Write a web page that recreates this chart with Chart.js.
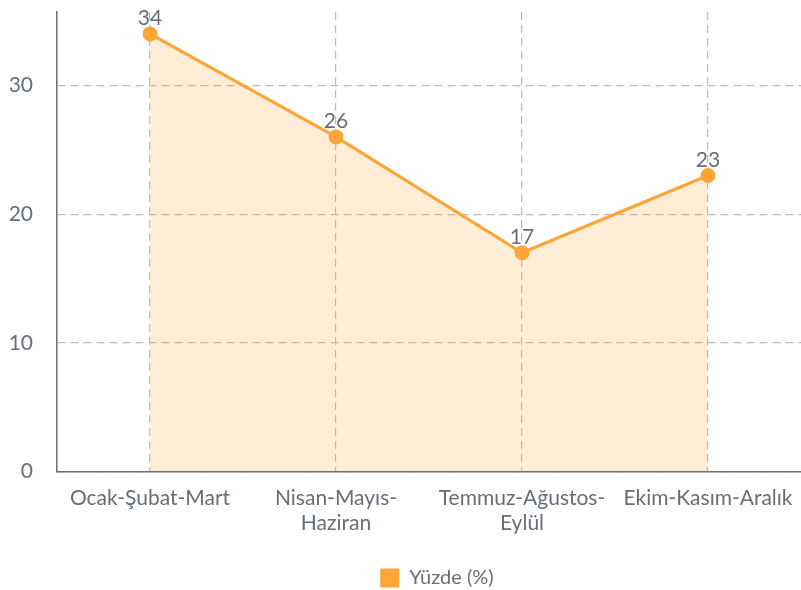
<!DOCTYPE html>
<html>
<head>
<meta charset="utf-8">
<script src="https://cdn.jsdelivr.net/npm/chart.js@4/dist/chart.umd.min.js"></script>
<style>
  html, body { margin: 0; padding: 0; background: #fff; }
  #wrap { width: 801px; height: 590px; }
</style>
</head>
<body>
<div id="wrap"><canvas id="chart"></canvas></div>
<script>
var quarters = ['Ocak-Şubat-Mart', ['Nisan-Mayıs-', 'Haziran'], ['Temmuz-Ağustos-', 'Eylül'], 'Ekim-Kasım-Aralık'];
var percentValues = [34, 26, 17, 23];
var yTickValues = [0, 10, 20, 30];

var lineColor = '#ffa537';
var fillColor = 'rgba(255, 165, 55, 0.2)';
var textColor = '#686e75';

// draws the number above each point
var pointLabels = {
    id: 'pointLabels',
    afterDatasetsDraw: function(chart) {
        var ctx = chart.ctx;
        ctx.save();
        ctx.font = '21px Lato';
        ctx.fillStyle = textColor;
        ctx.textAlign = 'center';
        ctx.textBaseline = 'bottom';
        chart.getDatasetMeta(0).data.forEach(function(pt, i) {
            ctx.fillText(percentValues[i], pt.x, pt.y - 5);
        });
        ctx.restore();
    }
};

// centre the legend under the plot area rather than the canvas
var legendShift = {
    id: 'legendShift',
    afterLayout: function(chart) {
        var lg = chart.legend;
        var dx = (chart.chartArea.left + chart.chartArea.right) / 2 - (lg.left + lg.right) / 2 + 8;
        lg.left += dx;
        lg.right += dx;
    }
};

Chart.defaults.font.family = 'Lato';
Chart.defaults.font.size = 21;
Chart.defaults.color = textColor;

var chart = new Chart(document.getElementById('chart'), {
    type: 'line',
    data: {
        labels: quarters,
        datasets: [{
            label: 'Yüzde (%)',
            data: percentValues,
            borderColor: lineColor,
            backgroundColor: fillColor,
            pointBackgroundColor: lineColor,
            pointBorderColor: lineColor,
            pointRadius: 6,
            borderWidth: 3,
            fill: true,
            tension: 0
        }]
    },
    options: {
        responsive: true,
        maintainAspectRatio: false,
        animation: false,
        layout: { autoPadding: false, padding: { top: 12, left: 0, right: -3, bottom: -8 } },
        plugins: {
            tooltip: { enabled: false },
            legend: {
                position: 'bottom',
                labels: {
                    boxWidth: 19,
                    boxHeight: 19,
                    padding: 6,
                    font: { size: 20 },
                    generateLabels: function(c) {
                        return [{
                            text: 'Yüzde (%)',
                            fillStyle: lineColor,
                            strokeStyle: lineColor,
                            lineWidth: 0,
                            fontColor: textColor,
                            datasetIndex: 0
                        }];
                    }
                }
            }
        },
        scales: {
            x: {
                offset: true,
                afterFit: function(axis) {
                    axis.paddingLeft = 0;
                    axis.paddingRight = 0;
                    axis.height += 12;
                },
                grid: {
                    offset: false,
                    color: '#bbbbbb',
                    lineWidth: 1.2,
                    drawTicks: false
                },
                border: { color: '#6f6f6f', width: 1.5, dash: [8, 5] },
                ticks: { padding: 14, maxRotation: 0, autoSkip: false }
            },
            y: {
                min: 0,
                max: 35.7,
                afterBuildTicks: function(axis) {
                    axis.ticks = yTickValues.map(function(v) { return { value: v }; });
                },
                afterFit: function(axis) {
                    axis.width = 57;
                    axis.paddingTop = 0;
                    axis.paddingBottom = 0;
                },
                grid: {
                    color: '#bbbbbb',
                    lineWidth: 1.2,
                    drawTicks: false
                },
                border: { color: '#6f6f6f', width: 1.5, dash: [8, 5] },
                ticks: { padding: 24 }
            }
        }
    },
    plugins: [pointLabels, legendShift]
});
</script>
</body>
</html>
